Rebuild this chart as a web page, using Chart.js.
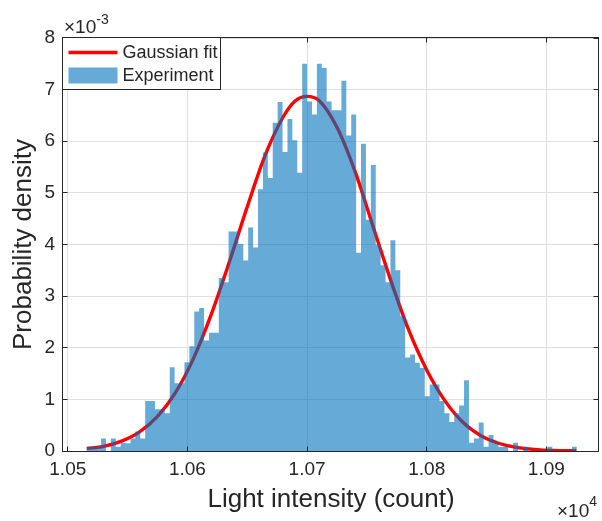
<!DOCTYPE html>
<html>
<head>
<meta charset="utf-8">
<script src="https://cdn.jsdelivr.net/npm/chart.js@4.4.0/dist/chart.umd.min.js"></script>
<style>
  html, body { margin: 0; padding: 0; background: #fff; }
</style>
</head>
<body>
<canvas id="chart-hist" width="602" height="521"></canvas>
<script>
// histogram bins: first edge and width, in counts
var binStart = 10515.5;
var binWidth = 4.1;
// probability density of each bin (x 1e-3)
var density = [
  0.08, 0.08, 0.08, 0.24, 0.00, 0.24, 0.08, 0.16, 0.15, 0.24,
  0.38, 0.24, 0.97, 0.97, 0.81, 0.81, 0.73, 1.62, 1.31, 1.31,
  1.72, 2.03, 2.70, 2.77, 2.14, 2.29, 2.29, 3.35, 3.27, 4.25,
  4.25, 4.01, 3.69, 4.33, 3.94, 5.07, 5.78, 5.29, 6.36, 6.76,
  5.79, 6.43, 6.02, 5.39, 7.50, 6.77, 6.52, 7.50, 7.42, 6.77,
  6.60, 6.60, 7.17, 6.11, 6.52, 3.84, 5.95, 4.48, 5.54, 4.00,
  3.60, 3.27, 4.08, 3.50, 2.61, 1.81, 1.87, 1.71, 1.61, 1.06,
  1.29, 1.29, 0.97, 0.73, 0.56, 0.73, 0.88, 1.37, 0.16, 0.24,
  0.55, 0.08, 0.31, 0.16, 0.08, 0.08, 0.00, 0.16, 0.00, 0.08,
  0.00, 0.00, 0.00, 0.00, 0.08, 0.00, 0.00, 0.00, 0.00, 0.08
];
// gaussian fit
var fitX = [10516, 10530, 10545, 10560, 10575, 10590, 10605, 10620, 10635, 10650,
            10665, 10680, 10690, 10700, 10710, 10725, 10740, 10755, 10770, 10785,
            10800, 10815, 10830, 10845, 10860, 10875, 10890, 10905, 10925];
var fitY = [0.05, 0.09, 0.19, 0.37, 0.67, 1.13, 1.79, 2.65, 3.66, 4.73,
            5.73, 6.47, 6.78, 6.87, 6.79, 6.27, 5.42, 4.36, 3.30, 2.34,
            1.57, 0.98, 0.56, 0.30, 0.15, 0.07, 0.03, 0.01, 0.005];
var xTicks = [10500, 10600, 10700, 10800, 10900];
var yTicks = [0, 1, 2, 3, 4, 5, 6, 7, 8];
var legendLabels = ['Gaussian fit', 'Experiment'];

var FONT = '"Liberation Sans", Arial, Helvetica, sans-serif';
var INK = '#262626';
var BAR = 'rgba(0,114,189,0.6)';
Chart.defaults.font.family = FONT;
Chart.defaults.color = INK;

// histogram as one stepped outline: a point at every bin's left edge,
// plus the right edge of the last bin, so neighbouring bars have no seams
var hist = density.map(function (d, i) {
  return { x: binStart + binWidth * i, y: d };
});
hist.push({ x: binStart + binWidth * density.length, y: density[density.length - 1] });
var fit = fitX.map(function (x, i) { return { x: x, y: fitY[i] }; });

function align(p) { return Math.round(p - 0.5) + 0.5; }

// box, inward ticks, exponent labels and legend in the MATLAB style
var frame = {
  id: 'frame',
  afterDatasetsDraw: function (chart) {
    var ctx = chart.ctx, a = chart.chartArea;
    var sx = chart.scales.x, sy = chart.scales.y;
    var L = align(a.left - 0.5), R = align(a.right - 0.5), T = align(a.top - 0.5), B = align(a.bottom + 0.5);
    ctx.save();
    ctx.strokeStyle = INK;
    ctx.lineWidth = 1;
    ctx.beginPath();
    xTicks.forEach(function (t) {
      var p = align(sx.getPixelForValue(t));
      ctx.moveTo(p, B); ctx.lineTo(p, B - 5);
      ctx.moveTo(p, T); ctx.lineTo(p, T + 5);
    });
    yTicks.forEach(function (t) {
      var p = align(sy.getPixelForValue(t));
      ctx.moveTo(L, p); ctx.lineTo(L + 5, p);
      ctx.moveTo(R, p); ctx.lineTo(R - 5, p);
    });
    ctx.stroke();
    ctx.strokeRect(L, T, R - L, B - T);

    // exponent labels
    ctx.fillStyle = INK;
    ctx.textBaseline = 'alphabetic';
    ctx.textAlign = 'left';
    ctx.font = '19px ' + FONT;
    ctx.fillText('\u00d710', 64, 33);
    var w = ctx.measureText('\u00d710').width;
    ctx.font = '14px ' + FONT;
    ctx.fillText('-3', 64 + w, 24);
    ctx.font = '19px ' + FONT;
    ctx.fillText('\u00d710', 557, 517);
    w = ctx.measureText('\u00d710').width;
    ctx.font = '14px ' + FONT;
    ctx.fillText('4', 557 + w, 506);

    // legend
    ctx.fillStyle = '#fff';
    ctx.fillRect(L, T, 158, 52);
    ctx.strokeRect(L, T, 158, 52);
    ctx.strokeStyle = '#ff0000';
    ctx.lineWidth = 3.4;
    ctx.beginPath();
    ctx.moveTo(L + 6, T + 15); ctx.lineTo(L + 55, T + 15);
    ctx.stroke();
    ctx.fillStyle = BAR;
    ctx.fillRect(L + 6, T + 30, 49, 16);
    ctx.fillStyle = INK;
    ctx.textBaseline = 'middle';
    ctx.font = '18px ' + FONT;
    ctx.fillText(legendLabels[0], L + 60, T + 16);
    ctx.fillText(legendLabels[1], L + 60, T + 39);
    ctx.restore();
  }
};

var ctx = document.getElementById('chart-hist');
var chart = new Chart(ctx, {
  type: 'line',
  data: {
    datasets: [{
      label: legendLabels[1],
      data: hist,
      stepped: 'before',
      fill: 'origin',
      backgroundColor: BAR,
      borderColor: 'rgba(0,0,0,0)',
      borderWidth: 0,
      pointRadius: 0,
      order: 0
    }, {
      label: legendLabels[0],
      data: fit,
      borderColor: '#ff0000',
      borderWidth: 3.4,
      pointRadius: 0,
      cubicInterpolationMode: 'monotone',
      fill: false,
      order: 1
    }]
  },
  options: {
    responsive: false,
    animation: false,
    devicePixelRatio: 1,
    layout: { padding: { left: 0, top: 38, right: 3, bottom: 0 } },
    plugins: { legend: { display: false }, tooltip: { enabled: false } },
    scales: {
      x: {
        type: 'linear',
        offset: false,
        min: 10496,
        max: 10944,
        afterFit: function (s) { s.height = 70; },
        grid: { color: '#dfdfdf', drawTicks: false },
        border: { display: false },
        ticks: {
          stepSize: 100,
          includeBounds: false,
          padding: 7,
          font: { size: 19 },
          callback: function (v) { return (v / 1e4).toFixed(2); }
        },
        title: {
          display: true,
          text: 'Light intensity (count)',
          font: { size: 26 },
          padding: { top: 0, bottom: 6 }
        }
      },
      y: {
        min: 0,
        max: 8,
        afterFit: function (s) { s.width = 63; },
        grid: { color: '#dfdfdf', drawTicks: false },
        border: { display: false },
        ticks: { stepSize: 1, padding: 8, font: { size: 19 } },
        title: {
          display: true,
          text: 'Probability density',
          font: { size: 26 },
          padding: { top: 8, bottom: 0 }
        }
      }
    }
  },
  plugins: [frame]
});
</script>
</body>
</html>
